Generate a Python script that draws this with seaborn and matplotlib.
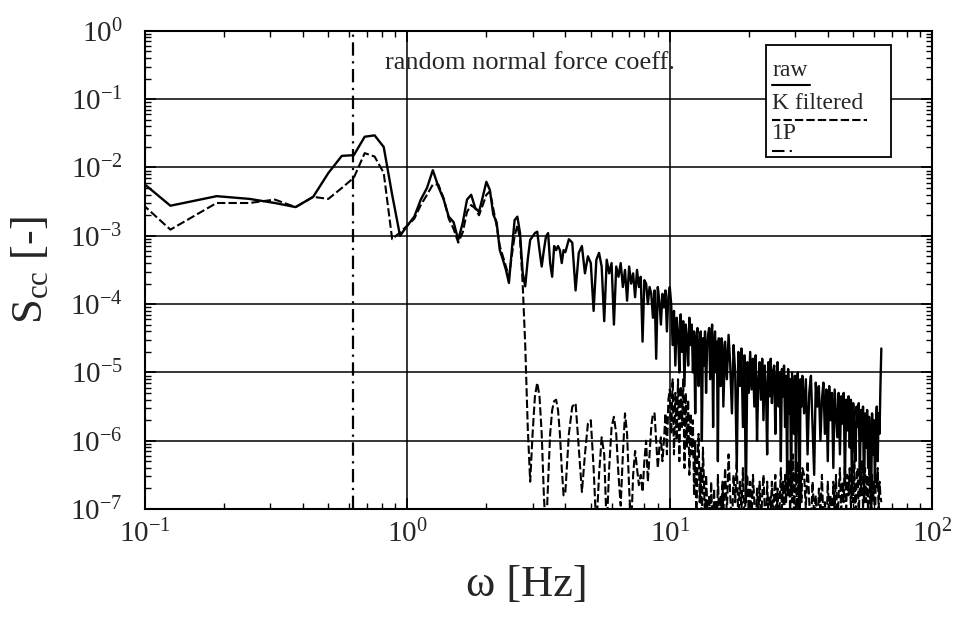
import numpy as np
import pandas as pd
import matplotlib
matplotlib.use("Agg")
import matplotlib.pyplot as plt
import seaborn as sns
from matplotlib.ticker import LogLocator, FuncFormatter, NullFormatter
from matplotlib.patches import Rectangle
from matplotlib.lines import Line2D

# Spectrum frequency bins [Hz]: fine resolution at low frequency, coarser above
freq_a = np.arange(1, 65) * 0.0625          # 0.0625 .. 4.0
freq_b = 4.0 + np.arange(1, 97) * 0.125     # 4.125 .. 16.0
freq_c = 16.0 + np.arange(1, 65) * 0.25     # 16.25 .. 32.0
freq_d = 32.0 + np.arange(1, 65) * 0.5      # 32.5 .. 64.0

# log10 of the spectral density S_cc, raw signal
raw_a = [-1.60, -2.56, -2.42, -2.46, -2.52, -2.58, -2.43, -2.08, -1.83, -1.82, -1.55, -1.53, -1.70, -2.40, -3.00, -2.85,
         -2.72, -2.47, -2.30, -2.04, -2.28, -2.47, -2.72, -2.80, -3.06, -2.81, -2.47, -2.40, -2.59, -2.65, -2.43, -2.21,
         -2.33, -2.69, -2.80, -3.21, -3.35, -3.50, -3.69, -3.21, -2.77, -2.72, -2.96, -3.54, -3.74, -3.35, -3.06, -3.01,
         -2.96, -2.94, -3.21, -3.45, -3.21, -3.01, -2.96, -3.40, -3.60, -3.15, -3.21, -3.15, -3.21, -3.40, -3.21, -3.24]
raw_b = [-3.05, -3.10, -3.80, -3.25, -3.15, -3.55, -3.30, -3.40, -4.10, -3.35, -3.25, -3.45, -4.25, -3.35, -3.55, -3.40,
         -4.30, -3.45, -3.60, -3.40, -3.75, -3.50, -3.95, -3.45, -3.70, -3.55, -3.90, -3.50, -3.75, -3.60, -4.55, -3.65,
         -3.70, -4.00, -3.75, -3.85, -4.20, -3.80, -4.80, -3.75, -3.95, -4.30, -3.85, -4.05, -3.80, -4.40, -3.90, -3.75,
         -4.00, -4.60, -4.10, -4.90, -4.20, -4.40, -5.00, -4.15, -4.70, -4.25, -5.20, -4.30, -4.50, -4.90, -4.20, -4.60,
         -4.30, -5.00, -4.40, -5.60, -4.50, -4.35, -5.20, -4.60, -4.40, -6.00, -4.50, -4.90, -4.40, -5.30, -4.60, -4.45,
         -4.35, -5.10, -4.50, -4.30, -5.80, -4.60, -4.40, -5.00, -4.55, -6.30, -4.50, -4.70, -5.20, -4.50, -4.60, -5.50]
raw_c = [-4.55, -5.10, -4.45, -4.90, -5.60, -4.60, -5.00, -6.40, -4.70, -5.20, -4.65, -5.80, -4.75, -6.90, -4.85, -5.30,
         -4.70, -5.25, -4.80, -5.50, -4.75, -6.00, -5.10, -4.85, -5.40, -4.80, -5.70, -4.90, -5.20, -6.20, -4.85, -5.35,
         -4.80, -5.45, -5.00, -4.90, -5.90, -5.10, -4.85, -5.50, -5.00, -6.30, -4.95, -5.35, -4.90, -5.80, -5.05, -6.50,
         -4.95, -5.60, -5.10, -6.80, -5.00, -5.45, -5.90, -5.05, -6.60, -5.20, -5.00, -5.70, -7.00, -5.10, -5.50, -5.05]
raw_d = [-5.60, -5.10, -6.20, -5.30, -5.05, -5.80, -6.50, -5.15, -5.50, -5.20, -6.00, -5.40, -5.15, -5.90, -5.25, -6.30,
         -5.20, -5.70, -5.30, -6.40, -5.25, -5.60, -5.95, -5.30, -6.20, -5.35, -5.75, -5.30, -6.60, -5.40, -5.85, -5.35,
         -6.10, -5.40, -6.80, -5.45, -5.90, -6.30, -5.50, -5.80, -5.45, -6.50, -5.55, -6.00, -5.50, -6.90, -5.60, -6.10,
         -5.55, -6.40, -5.65, -6.00, -7.00, -5.60, -6.20, -5.70, -6.60, -5.80, -5.50, -6.30, -5.60, -5.90, -5.20, -4.65]

# log10 of the spectral density S_cc, K filtered signal
filt_a = [-1.86, -2.91, -2.52, -2.52, -2.47, -2.58, -2.43, -2.46, -2.30, -2.15, -1.79, -1.84, -2.08, -3.05, -2.95, -2.85,
          -2.75, -2.55, -2.40, -2.25, -2.25, -2.45, -2.75, -2.90, -3.10, -2.95, -2.65, -2.55, -2.60, -2.70, -2.55, -2.40,
          -2.35, -2.60, -2.85, -3.15, -3.30, -3.45, -3.60, -3.30, -3.00, -2.85, -3.05, -3.70, -4.60, -5.80, -6.60, -5.90,
          -5.35, -5.15, -5.35, -5.90, -6.80, -7.40, -6.60, -5.90, -5.55, -5.42, -5.40, -5.55, -5.90, -6.40, -6.80, -6.75]
filt_b = [-5.90, -5.50, -5.45, -6.10, -6.75, -6.20, -5.75, -5.70, -6.40, -7.30, -6.50, -5.95, -6.20, -7.30, -6.40, -5.80,
          -5.65, -5.90, -6.50, -6.95, -6.20, -5.60, -5.90, -6.70, -7.30, -6.50, -6.15, -6.40, -6.65, -6.50, -6.75, -6.30,
          -6.00, -6.60, -6.20, -5.80, -5.60, -5.60, -6.00, -6.40, -6.10, -5.95, -6.30, -6.00, -5.60, -6.20, -5.40, -5.25,
          -5.90, -5.10, -6.20, -5.30, -6.00, -5.10, -6.30, -5.20, -5.80, -5.10, -6.40, -5.30, -6.10, -5.40, -6.50, -5.60,
          -6.20, -5.70, -6.80, -6.00, -7.20, -6.30, -5.90, -6.90, -6.40, -7.30, -6.10, -6.60, -7.20, -6.50, -6.90, -7.40,
          -6.80, -7.30, -6.60, -7.10, -7.40, -6.70, -7.20, -6.90, -7.40, -6.50, -7.00, -7.30, -6.80, -7.20, -6.60, -7.10]
filt_c = [-6.40, -7.10, -6.20, -6.80, -7.30, -6.50, -6.90, -6.30, -7.20, -6.60, -7.00, -6.40, -7.30, -6.70, -6.50, -7.10,
          -6.60, -7.20, -6.50, -6.90, -7.40, -6.70, -7.10, -6.60, -7.30, -6.80, -6.50, -7.00, -7.40, -6.60, -7.10, -6.80,
          -7.00, -6.60, -7.30, -6.80, -6.50, -7.20, -6.70, -7.40, -6.90, -6.40, -7.00, -6.60, -7.30, -6.50, -6.90, -6.30,
          -6.80, -6.30, -7.10, -6.50, -6.90, -6.20, -7.20, -6.60, -6.40, -7.00, -6.30, -6.80, -7.30, -6.50, -6.90, -6.40]
filt_d = [-6.50, -7.00, -6.30, -6.90, -7.30, -6.60, -7.10, -6.80, -7.40, -6.70, -7.00, -6.50, -7.20, -6.90, -7.40, -6.60,
          -7.10, -6.80, -7.40, -6.60, -7.00, -6.50, -7.30, -6.80, -6.40, -7.10, -6.60, -6.90, -6.30, -7.00, -6.50, -6.80,
          -6.40, -7.00, -6.50, -6.90, -6.30, -7.10, -6.60, -6.40, -7.20, -6.50, -6.80, -6.30, -7.00, -6.60, -6.40, -6.90,
          -6.50, -7.10, -6.40, -6.80, -7.20, -6.50, -6.90, -6.60, -7.30, -6.50, -6.70, -6.40, -7.00, -6.60, -6.80, -6.90]

# rotor 1P frequency [Hz]
f_1p = 0.62

sns.set_style("ticks")
plt.rcParams["font.family"] = ["Liberation Serif", "DejaVu Serif"]
plt.rcParams["mathtext.fontset"] = "stix"

freq = np.concatenate([freq_a, freq_b, freq_c, freq_d])
df = pd.DataFrame({
    "f": freq,
    "raw": 10.0 ** np.concatenate([raw_a, raw_b, raw_c, raw_d]),
    "filt": 10.0 ** np.concatenate([filt_a, filt_b, filt_c, filt_d]),
})

dash_filt = (0, (4, 1.5))
dash_1p = (0, (6, 2.5, 1, 2.5))

fig = plt.figure(figsize=(9.64, 6.17), dpi=100)
ax = fig.add_axes([0.1504, 0.175, 0.8166, 0.775])
ax.set_xscale("log")
ax.set_yscale("log")

sns.lineplot(data=df, x="f", y="raw", ax=ax, color="black", linewidth=1.7,
             estimator=None, sort=False, zorder=3)
sns.lineplot(data=df, x="f", y="filt", ax=ax, color="black", linewidth=1.5,
             linestyle=dash_filt, estimator=None, sort=False, zorder=3)
ax.axvline(f_1p, color="black", linewidth=1.6, linestyle=dash_1p, zorder=3)

ax.set_xlim(0.1, 100)
ax.set_ylim(1e-7, 1)

fmt = FuncFormatter(lambda v, p: r"$\mathregular{10^{%d}}$" % int(round(np.log10(v))))
ax.xaxis.set_major_locator(LogLocator(base=10, numticks=10))
ax.yaxis.set_major_locator(LogLocator(base=10, numticks=10))
ax.xaxis.set_minor_locator(LogLocator(base=10, subs=np.arange(2, 10), numticks=20))
ax.yaxis.set_minor_locator(LogLocator(base=10, subs=np.arange(2, 10), numticks=20))
ax.xaxis.set_major_formatter(fmt)
ax.yaxis.set_major_formatter(fmt)
ax.xaxis.set_minor_formatter(NullFormatter())
ax.yaxis.set_minor_formatter(NullFormatter())

ax.tick_params(which="both", direction="in", top=True, right=True, color="black")
ax.tick_params(which="major", length=8, width=1.2, labelsize=21)
ax.tick_params(axis="x", which="major", pad=8)
ax.tick_params(axis="y", which="major", pad=16)
ax.tick_params(which="minor", length=4, width=1.0)

ax.grid(True, which="major", color="black", linewidth=1.1)
ax.grid(False, which="minor")
for s in ax.spines.values():
    s.set_color("black")
    s.set_linewidth(1.5)

ax.set_xlabel("ω [Hz]", fontsize=32, va="center")
ax.xaxis.set_label_coords(0.485, -0.159)
ax.set_ylabel(r"$\mathregular{S_{cc}}$ [-]", fontsize=32, va="center")
ax.yaxis.set_label_coords(-0.146, 0.5)

ax.text(0.305, 0.933, "random normal force coeff.", transform=ax.transAxes,
        fontsize=19, ha="left", va="center", zorder=4)

# legend box: label above each line sample
ax.add_patch(Rectangle((0.789, 0.736), 0.159, 0.235, transform=ax.transAxes,
                       facecolor="white", edgecolor="black", linewidth=1.3, zorder=5))
entries = [
    ("raw", 0.918, 0.887, 0.845, "-"),
    ("K filtered", 0.849, 0.814, 0.917, dash_filt),
    ("1P", 0.785, 0.748, 0.828, dash_1p),
]
for label, ty, ly, lx1, ls in entries:
    ax.text(0.797, ty, label, transform=ax.transAxes, fontsize=17,
            ha="left", va="center", zorder=6)
    ax.add_line(Line2D([0.797, lx1], [ly, ly], transform=ax.transAxes, color="black",
                       linewidth=1.5, linestyle=ls, zorder=6))

fig.savefig("out.png", dpi=100)
